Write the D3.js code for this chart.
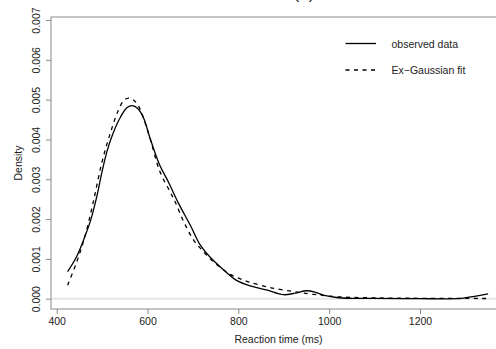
<!doctype html>
<html lang="en">
<head>
<meta charset="utf-8" />
<style>
  body { margin: 0; background: #fff; }
  svg text { font-family: "Liberation Sans", Arial, sans-serif; fill: #222; }
</style>
</head>
<body>
<div id="chart"></div>
<script src="https://d3js.org/d3.v7.min.js"></script>
<script>
  var width = 496,
      height = 349;

  // observed density (kernel estimate)
  var obsX = [424, 444, 462, 475, 488, 500, 512, 525, 540, 555, 567, 580, 592, 605, 627, 646, 668, 694, 716, 738, 767, 796, 826, 862, 899, 925, 950, 970, 987, 1016, 1050, 1100, 1200, 1292, 1320, 1350];
  var obsY = [0.00068, 0.00106, 0.00156, 0.00198, 0.00255, 0.0032, 0.00375, 0.00418, 0.00455, 0.0048, 0.00485, 0.00476, 0.00452, 0.00405, 0.00335, 0.00293, 0.0024, 0.00185, 0.00135, 0.00104, 0.00073, 0.00046, 0.00032, 0.00022, 0.0001, 0.00014, 0.0002, 0.00016, 0.00009, 0.00003, 0.00001, 0.00001, 0.0, 0.00001, 0.00006, 0.00012];

  // ex-Gaussian fit
  var fitX = [424, 444, 462, 480, 499, 517, 536, 548, 558, 568, 580, 602, 627, 650, 661, 679, 701, 720, 738, 760, 782, 804, 826, 870, 921, 965, 1016, 1100, 1200, 1350];
  var fitY = [0.00034, 0.00092, 0.00156, 0.0024, 0.0034, 0.00412, 0.00474, 0.00498, 0.00504, 0.005, 0.00484, 0.00416, 0.0032, 0.00268, 0.00243, 0.00195, 0.00148, 0.00122, 0.001, 0.00079, 0.00061, 0.0005, 0.00041, 0.00028, 0.00018, 0.00011, 0.00005, 0.00002, 0.00001, 0.000005];

  var xTicks = [400, 600, 800, 1000, 1200];
  var yTicks = [0, 0.001, 0.002, 0.003, 0.004, 0.005, 0.006, 0.007];
  var legendLabels = ["observed data", "Ex\u2212Gaussian fit"];

  var svg = d3.select("#chart").append("svg")
      .attr("width", width)
      .attr("height", height);

  var box = {left: 51, top: 17, right: 506, bottom: 309};

  var x = d3.scaleLinear().domain([400, 1200]).range([56.7, 420]);
  var y = d3.scaleLinear().domain([0, 0.007]).range([298.7, 20]);

  // title (cut off at the top in the original)
  svg.append("text")
    .attr("x", 304).attr("y", -1)
    .attr("text-anchor", "middle")
    .style("font-size", "17px")
    .text("(a)");

  // zero line
  svg.append("line")
    .attr("x1", box.left).attr("x2", box.right)
    .attr("y1", y(0)).attr("y2", y(0))
    .attr("stroke", "#e6e6e6")
    .attr("stroke-width", 2);

  // frame
  svg.append("rect")
    .attr("x", box.left).attr("y", box.top)
    .attr("width", box.right - box.left)
    .attr("height", box.bottom - box.top)
    .attr("fill", "none")
    .attr("stroke", "#8a8a8a");

  // x axis
  var xAxis = svg.append("g")
    .attr("transform", "translate(0," + box.bottom + ")")
    .call(d3.axisBottom(x).tickValues(xTicks).tickSize(5).tickPadding(4).tickFormat(d3.format("d")));
  xAxis.select(".domain").remove();
  xAxis.selectAll("line").attr("stroke", "#8a8a8a");
  xAxis.selectAll("text").style("font-size", "10.5px").attr("fill", "#222");

  // y axis, labels rotated like in R
  var yAxis = svg.append("g")
    .attr("transform", "translate(" + box.left + ",0)")
    .call(d3.axisLeft(y).tickValues(yTicks).tickSize(5).tickFormat(d3.format(".3f")));
  yAxis.select(".domain").remove();
  yAxis.selectAll("line").attr("stroke", "#8a8a8a");
  yAxis.selectAll("text")
    .attr("x", null).attr("dy", null)
    .attr("text-anchor", "middle")
    .attr("transform", "translate(-11,0) rotate(-90)")
    .style("font-size", "10.5px")
    .attr("fill", "#222");

  // axis titles
  svg.append("text")
    .attr("x", 278.5).attr("y", 343)
    .attr("text-anchor", "middle")
    .style("font-size", "10.5px")
    .text("Reaction time (ms)");

  svg.append("text")
    .attr("transform", "translate(22,163) rotate(-90)")
    .attr("text-anchor", "middle")
    .style("font-size", "10.5px")
    .text("Density");

  var line = d3.line()
    .x(d => x(d[0]))
    .y(d => y(d[1]))
    .curve(d3.curveCatmullRom.alpha(0.5));

  svg.append("path")
    .datum(d3.zip(obsX, obsY))
    .attr("d", line)
    .attr("fill", "none")
    .attr("stroke", "#000")
    .attr("stroke-width", 1.3);

  svg.append("path")
    .datum(d3.zip(fitX, fitY))
    .attr("d", line)
    .attr("fill", "none")
    .attr("stroke", "#000")
    .attr("stroke-width", 1.3)
    .attr("stroke-dasharray", "4,4.5");

  // legend
  var legend = svg.append("g");
  legendLabels.forEach(function(lab, i) {
    var ly = 43.5 + i * 26.5;
    legend.append("line")
      .attr("x1", 345.5).attr("x2", 376)
      .attr("y1", ly).attr("y2", ly)
      .attr("stroke", "#000")
      .attr("stroke-width", 1.3)
      .attr("stroke-dasharray", i == 1 ? "4,4.5" : null);
    legend.append("text")
      .attr("x", 391.5).attr("y", ly + 4)
      .style("font-size", "10.5px")
      .text(lab);
  });
</script>
</body>
</html>
